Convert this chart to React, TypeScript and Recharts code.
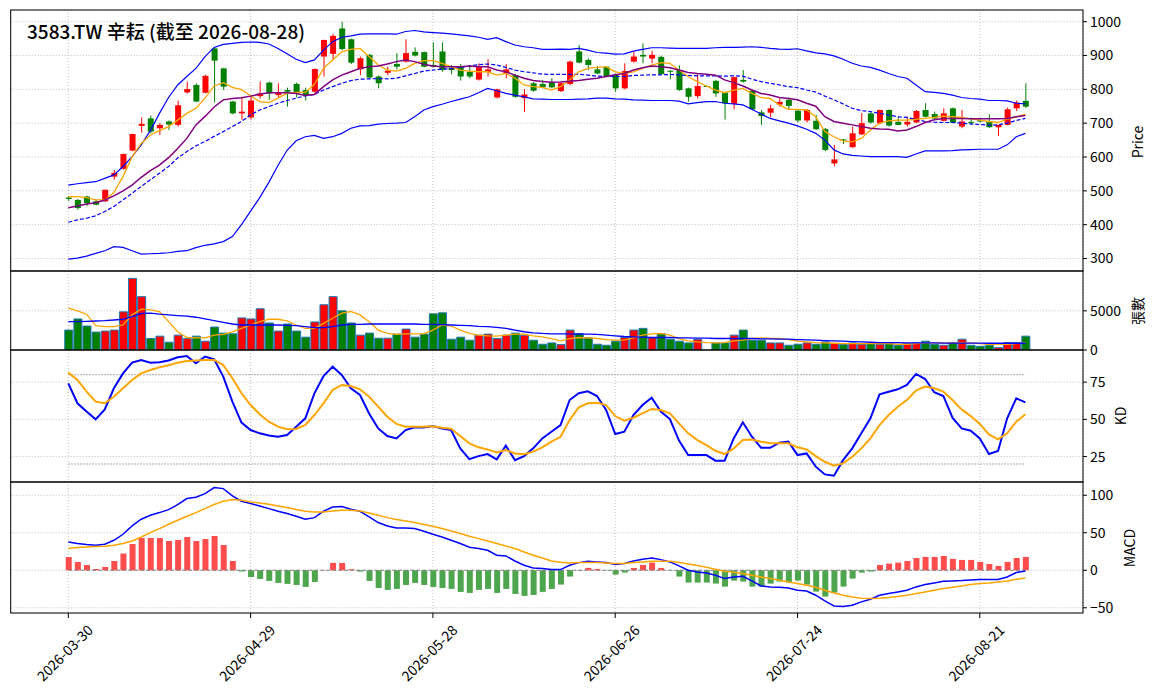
import React from 'react';
import {
  ComposedChart,
  Bar,
  Line,
  XAxis,
  YAxis,
  CartesianGrid,
  ReferenceLine,
  Cell,
} from 'recharts';

// ---- data ----
const DATES = [
  '2026-03-30', '2026-03-31', '2026-04-01', '2026-04-02', '2026-04-07', '2026-04-08', '2026-04-09', '2026-04-10', '2026-04-13', '2026-04-14',
  '2026-04-15', '2026-04-16', '2026-04-17', '2026-04-20', '2026-04-21', '2026-04-22', '2026-04-23', '2026-04-24', '2026-04-27', '2026-04-28',
  '2026-04-29', '2026-04-30', '2026-05-04', '2026-05-05', '2026-05-06', '2026-05-07', '2026-05-08', '2026-05-11', '2026-05-12', '2026-05-13',
  '2026-05-14', '2026-05-15', '2026-05-18', '2026-05-19', '2026-05-20', '2026-05-21', '2026-05-22', '2026-05-25', '2026-05-26', '2026-05-27',
  '2026-05-28', '2026-05-29', '2026-06-01', '2026-06-02', '2026-06-03', '2026-06-04', '2026-06-05', '2026-06-08', '2026-06-09', '2026-06-10',
  '2026-06-11', '2026-06-12', '2026-06-15', '2026-06-16', '2026-06-17', '2026-06-18', '2026-06-22', '2026-06-23', '2026-06-24', '2026-06-25',
  '2026-06-26', '2026-06-29', '2026-06-30', '2026-07-01', '2026-07-02', '2026-07-03', '2026-07-06', '2026-07-07', '2026-07-08', '2026-07-09',
  '2026-07-10', '2026-07-13', '2026-07-14', '2026-07-15', '2026-07-16', '2026-07-17', '2026-07-20', '2026-07-21', '2026-07-22', '2026-07-23',
  '2026-07-24', '2026-07-27', '2026-07-28', '2026-07-29', '2026-07-30', '2026-07-31', '2026-08-03', '2026-08-04', '2026-08-05', '2026-08-06',
  '2026-08-07', '2026-08-10', '2026-08-11', '2026-08-12', '2026-08-13', '2026-08-14', '2026-08-17', '2026-08-18', '2026-08-19', '2026-08-20',
  '2026-08-21', '2026-08-24', '2026-08-25', '2026-08-26', '2026-08-27', '2026-08-28',
];

const OPEN = [
  480, 473, 483, 469, 469, 542, 565, 619, 692, 714,
  685, 705, 695, 791, 813, 790, 921, 862, 764, 729,
  717, 780, 820, 783, 798, 816, 798, 793, 897, 905,
  980, 948, 859, 902, 838, 849, 875, 882, 911, 910,
  872, 912, 864, 867, 852, 829, 852, 776, 847, 842,
  774, 818, 816, 820, 795, 816, 912, 887, 859, 867,
  843, 803, 882, 902, 891, 896, 855, 857, 803, 780,
  810, 825, 790, 757, 828, 796, 732, 731, 755, 769,
  737, 708, 707, 683, 581, 652, 629, 667, 729, 700,
  739, 704, 696, 702, 739, 727, 707, 744, 690, 704,
  709, 705, 688, 695, 744, 766,
];
const HIGH = [
  484, 476, 486, 473, 504, 562, 610, 669, 717, 723,
  700, 708, 767, 823, 818, 843, 924, 864, 766, 778,
  779, 823, 823, 818, 805, 820, 805, 862, 947, 964,
  1000, 950, 897, 905, 841, 867, 907, 948, 924, 912,
  939, 939, 872, 875, 872, 877, 889, 802, 875, 846,
  801, 822, 828, 833, 822, 885, 931, 892, 869, 869,
  847, 877, 911, 936, 914, 899, 856, 871, 805, 846,
  811, 828, 793, 838, 857, 799, 739, 754, 773, 776,
  740, 742, 725, 686, 636, 653, 690, 730, 732, 740,
  741, 719, 719, 739, 759, 734, 744, 746, 739, 717,
  717, 726, 695, 746, 767, 818,
];
const LOW = [
  470, 444, 455, 457, 467, 533, 563, 617, 672, 670,
  665, 680, 690, 788, 762, 788, 761, 798, 726, 710,
  711, 773, 769, 776, 749, 776, 767, 790, 838, 887,
  916, 875, 842, 832, 803, 842, 859, 879, 897, 865,
  865, 852, 845, 826, 833, 826, 838, 773, 833, 775,
  733, 793, 803, 803, 792, 812, 877, 857, 845, 836,
  793, 800, 879, 877, 877, 843, 830, 796, 764, 773,
  809, 778, 711, 741, 820, 738, 695, 717, 749, 739,
  702, 702, 680, 617, 573, 638, 627, 665, 699, 697,
  690, 694, 690, 700, 717, 709, 705, 700, 685, 695,
  702, 686, 662, 694, 736, 745,
];
const CLOSE = [
  476, 449, 464, 459, 503, 553, 609, 668, 698, 675,
  695, 696, 753, 801, 764, 840, 885, 808, 729, 734,
  767, 788, 788, 790, 793, 788, 783, 860, 946, 958,
  919, 879, 892, 835, 818, 855, 867, 907, 900, 867,
  867, 857, 857, 838, 838, 869, 859, 800, 859, 778,
  785, 796, 806, 806, 818, 882, 879, 872, 847, 838,
  803, 854, 897, 897, 902, 845, 853, 798, 778, 810,
  810, 788, 759, 836, 823, 741, 721, 744, 763, 751,
  708, 739, 682, 621, 593, 650, 670, 700, 702, 739,
  693, 695, 704, 736, 719, 714, 729, 702, 705, 701,
  705, 688, 695, 741, 761, 749,
];

const MA5 = [
  483, 483, 480, 473, 473, 495, 542, 601, 640, 665,
  678, 690, 709, 729, 744, 774, 810, 820, 806, 799,
  781, 764, 761, 774, 789, 791, 791, 815, 862, 887,
  911, 918, 921, 897, 872, 857, 854, 862, 877, 885,
  885, 877, 867, 857, 854, 852, 852, 842, 847, 833,
  813, 808, 806, 798, 808, 828, 852, 862, 865, 867,
  852, 847, 852, 862, 872, 879, 877, 857, 838, 823,
  810, 798, 790, 798, 803, 788, 776, 773, 754, 741,
  741, 739, 719, 675, 660, 647, 645, 655, 680, 700,
  707, 709, 709, 711, 714, 717, 721, 719, 717, 713,
  709, 705, 702, 712, 719, 727,
];
const MA10 = [
  450, 455, 461, 465, 473, 485, 500, 517, 540, 560,
  576, 598, 625, 655, 695, 720, 748, 769, 773, 775,
  780, 786, 790, 790, 790, 788, 782, 785, 808, 828,
  842, 852, 862, 867, 869, 875, 882, 887, 882, 874,
  869, 867, 867, 867, 869, 867, 867, 857, 852, 842,
  833, 826, 823, 821, 822, 824, 826, 830, 833, 838,
  843, 847, 857, 864, 869, 867, 864, 857, 850, 847,
  845, 842, 828, 820, 810, 798, 788, 783, 776, 773,
  769, 759, 750, 719, 705, 700, 695, 690, 685, 683,
  682, 677, 680, 690, 702, 710, 714, 714, 714, 713,
  713, 713, 713, 714, 719, 723,
];
const MA20 = [
  407, 414, 419, 426, 439, 454, 473, 493, 513, 533,
  552, 572, 597, 616, 633, 646, 661, 675, 690, 705,
  725, 739, 749, 759, 767, 774, 781, 785, 798, 808,
  818, 826, 830, 831, 832, 831, 833, 840, 847, 854,
  857, 860, 861, 865, 869, 873, 875, 872, 865, 857,
  852, 849, 845, 844, 844, 844, 845, 842, 839, 838,
  838, 838, 841, 842, 843, 843, 844, 843, 841, 840,
  840, 840, 839, 840, 839, 830, 823, 818, 813, 808,
  805, 798, 792, 780, 769, 757, 744, 737, 734, 729,
  724, 719, 717, 711, 705, 703, 702, 702, 700, 698,
  696, 694, 695, 700, 708, 714,
];
const BB_UPPER = [
  517, 521, 524, 527, 537, 547, 572, 601, 636, 678,
  729, 776, 813, 838, 862, 897, 924, 933, 936, 939,
  940, 939, 934, 921, 905, 889, 879, 887, 916, 941,
  954, 958, 963, 964, 964, 964, 963, 971, 974, 970,
  968, 966, 964, 961, 958, 954, 948, 953, 941, 931,
  926, 923, 918, 918, 919, 918, 921, 916, 909, 907,
  904, 905, 913, 918, 923, 923, 922, 921, 921, 921,
  921, 923, 924, 924, 925, 926, 924, 921, 919, 918,
  920, 914, 908, 905, 899, 889, 877, 869, 865, 857,
  847, 838, 833, 813, 793, 791, 788, 783, 776, 773,
  771, 767, 767, 766, 759, 757,
];
const BB_LOWER = [
  298, 301, 307, 315, 323, 335, 333, 323, 313, 314,
  315, 317, 321, 323, 332, 339, 343, 350, 365, 400,
  440, 480, 525, 575, 620, 648, 660, 664, 655, 660,
  670, 685, 692, 693, 697, 699, 700, 702, 719, 739,
  749, 756, 764, 771, 778, 790, 803, 796, 788, 783,
  778, 772, 771, 770, 770, 770, 771, 772, 774, 774,
  772, 771, 769, 768, 767, 767, 767, 765, 757, 761,
  764, 764, 759, 757, 754, 741, 727, 714, 707, 700,
  692, 682, 670, 650, 621, 609, 605, 603, 601, 601,
  601, 601, 599, 609, 618, 618, 618, 619, 621, 622,
  623, 623, 623, 636, 660, 670,
];

const VOLUME = [
  2543, 3965, 3060, 2284, 2414, 2543, 4870, 9137, 6810, 1465,
  1767, 991, 1896, 1465, 1767, 1121, 2931, 2155, 2069, 4095,
  3965, 5258, 3448, 2414, 3319, 2414, 1638, 3577, 5775, 6810,
  5000, 3448, 1896, 2155, 1509, 1509, 2026, 2672, 1638, 2026,
  4612, 4741, 1379, 1638, 1250, 1896, 2026, 1465, 1896, 2155,
  1896, 1250, 733, 905, 690, 2543, 2112, 1552, 733, 603,
  1121, 1595, 2543, 2758, 1552, 2069, 1379, 1121, 905, 1379,
  0, 905, 905, 1896, 2543, 1250, 1250, 905, 905, 603,
  733, 905, 733, 1034, 819, 690, 905, 733, 819, 733,
  819, 603, 819, 905, 1121, 733, 603, 905, 1379, 603,
  474, 603, 302, 948, 948, 1767,
];
const VOL_MA5 = [
  5344, 5000, 4569, 3103, 2974, 2974, 3189, 4482, 5215, 5129,
  4913, 3620, 2327, 1595, 1552, 1552, 1896, 1983, 2327, 2758,
  3189, 3620, 3922, 3922, 3707, 3189, 2758, 2758, 3405, 4051,
  4698, 4913, 4482, 3620, 2543, 2112, 1983, 2069, 2069, 2069,
  2543, 3189, 3060, 2543, 2112, 1896, 1810, 1767, 1896, 2026,
  2026, 1810, 1681, 1465, 1164, 1465, 1595, 1552, 1465, 1336,
  1250, 1250, 1552, 1896, 2069, 2112, 1896, 1465, 1164, 1034,
  948, 905, 948, 1164, 1250, 1465, 1552, 1465, 1465, 1336,
  1121, 1034, 948, 905, 862, 819, 819, 819, 819, 819,
  819, 733, 733, 819, 905, 905, 905, 905, 948, 905,
  819, 733, 733, 733, 819, 948,
];
const VOL_MA20 = [
  3620, 3620, 3660, 3700, 3750, 3830, 3922, 4267, 4655, 4698,
  4569, 4482, 4396, 4310, 4181, 3965, 3750, 3534, 3319, 3189,
  3189, 3189, 3189, 3189, 3146, 3103, 2974, 2845, 2845, 2974,
  3189, 3276, 3276, 3319, 3319, 3319, 3319, 3319, 3319, 3276,
  3276, 3233, 3189, 3146, 3103, 3017, 2974, 2888, 2758, 2543,
  2327, 2198, 2112, 2069, 2069, 2069, 2026, 2026, 1983, 1896,
  1810, 1724, 1681, 1638, 1595, 1595, 1595, 1552, 1552, 1509,
  1509, 1465, 1465, 1465, 1465, 1465, 1422, 1422, 1379, 1379,
  1336, 1293, 1250, 1207, 1164, 1121, 1077, 1034, 991, 948,
  948, 948, 905, 905, 905, 905, 880, 880, 880, 870,
  870, 862, 862, 862, 862, 862,
];

const K = [
  74.2, 60.8, 55.2, 50, 56.7, 70.9, 80.9, 88.1, 89.9, 88.1,
  88.3, 89.5, 91.7, 92.6, 87.7, 92.2, 90.4, 78.7, 61.9, 47.8,
  42.8, 40.6, 39.2, 38.3, 39.5, 45.1, 50.7, 67.5, 79.1, 85.4,
  79.8, 70.9, 66.4, 54, 43.9, 38.8, 37.2, 42.8, 44.6, 44.6,
  45.5, 43.9, 42.8, 30.5, 23.3, 25.3, 26.7, 23.1, 32.3, 22.6,
  25.3, 30.5, 37.2, 41.7, 46.2, 63, 67.5, 68.8, 65.7, 56.3,
  40.1, 41.7, 52.9, 59.6, 64.6, 55.2, 50.2, 35.7, 26, 26,
  26, 22.2, 22.2, 37.2, 48, 38.3, 30.9, 30.9, 34.3, 35,
  26, 27.1, 18.2, 13, 12.1, 22.6, 30.5, 40.6, 50.7, 66.8,
  68.6, 70.2, 73.1, 80.5, 77.1, 68.2, 65.7, 51.1, 43.9, 42.4,
  37.2, 26.7, 28.7, 50.7, 64.1, 61.4,
];
const D = [
  81.4, 76.5, 68.6, 61.9, 60.8, 65.2, 70.9, 76.5, 80.9, 83.2,
  85, 86.3, 88.1, 89.2, 89.5, 89.9, 89.9, 86.5, 77.6, 67.5,
  59.6, 53.4, 48.4, 45.1, 43.3, 43.5, 46.2, 52.9, 60.8, 69.7,
  73.1, 72.4, 70.2, 65.2, 58.5, 51.8, 46.9, 45.1, 45.1, 45.1,
  45.3, 44.4, 43.7, 38.8, 33.9, 31.2, 29.8, 27.8, 29.4, 27.1,
  26.5, 28.3, 31.2, 35, 38.3, 49.6, 58.1, 60.8, 61.2, 59.6,
  52.2, 49.1, 51.1, 54, 57, 56.3, 54, 47.3, 40.6, 36.1,
  32.7, 28.9, 26.7, 30.5, 36.1, 36.5, 35, 33.9, 33.9, 33.9,
  31.2, 29.8, 25.3, 21.5, 18.8, 20.4, 24.9, 30.5, 37.2, 46.2,
  52.9, 58.5, 63, 69.3, 72, 70.9, 68.6, 63, 56.7, 52.2,
  46.9, 39.9, 36.5, 40.6, 48.4, 53.4,
];

const DIF = [
  37.8, 35.6, 34.2, 33.3, 34.7, 40, 48, 59.1, 68, 73.3,
  76.9, 80.9, 87.6, 95.6, 97.3, 102.2, 110.2, 108.9, 99.1, 92,
  88.9, 85.8, 82.2, 78.7, 75.6, 72, 68, 70.2, 78.7, 84.4,
  84.9, 81.3, 78.7, 71.1, 63.6, 59.1, 56.4, 56.4, 55.6, 52,
  48, 44.4, 40, 35.6, 30.7, 28.9, 26.7, 20, 19.1, 12.4,
  6.7, 3.1, 2.2, 0.9, 0.9, 6.7, 10.2, 12, 11.1, 10.2,
  7.6, 8.9, 12.4, 14.7, 16.4, 14.2, 11.1, 5.8, 0, -2.2,
  -3.6, -6.7, -11.1, -8.9, -8, -14.2, -20.9, -22.2, -22.7, -23.6,
  -26.7, -27.6, -33.3, -40.9, -47.6, -48.4, -46.7, -42.2, -38.7, -33.3,
  -31.1, -28.9, -26.7, -22.2, -19.1, -16.9, -14.7, -14.2, -13.8, -12.9,
  -12.4, -12.4, -12.4, -8.9, -3.1, -0.9,
];
const DEA = [
  28.9, 30.2, 31.1, 31.6, 32, 33.3, 35.6, 39.1, 44.4, 50.2,
  55.6, 61.3, 66.7, 72, 76.9, 82.2, 87.6, 92, 94.2, 93.3,
  91.1, 89.8, 88, 85.8, 83.6, 80.9, 78.7, 77.8, 77.8, 79.1,
  80, 80, 79.1, 76.4, 73.3, 70.2, 67.6, 65.8, 63.6, 60.9,
  58.7, 55.6, 52.4, 48.9, 45.3, 42.2, 39.1, 35.6, 32.4, 28.9,
  24.4, 20, 16.4, 12.4, 10.7, 9.8, 10.2, 10.2, 10.2, 9.8,
  8.9, 8.9, 10.2, 11.1, 12, 12, 12, 10.2, 8.4, 6.2,
  4, 1.3, -1.3, -2.7, -4.4, -6.7, -8.9, -11.1, -13.3, -15.6,
  -17.8, -20, -22.7, -26.7, -30.2, -33.3, -35.6, -37.3, -37.8, -37.3,
  -36.4, -35.1, -33.3, -31.1, -28.9, -26.7, -24.4, -22.7, -20.9, -19.1,
  -17.8, -16.9, -15.6, -14.2, -12, -10.2,
];
const OSC = [
  17.8, 11.1, 7.1, 1.8, 4.4, 12.4, 22.2, 35.1, 43.1, 43.1,
  43.1, 39.1, 40.4, 44.4, 39.1, 41.8, 45.8, 33.8, 12.4, -1.8,
  -8.9, -11.6, -14.2, -16.9, -18.2, -19.6, -22.2, -15.6, 0.4, 9.8,
  9.8, 1.3, -1.8, -14.2, -23.6, -26.2, -24.9, -19.6, -16.9, -19.6,
  -22.2, -23.6, -24.9, -28.9, -30.2, -26.2, -24.9, -30.2, -24.9, -31.6,
  -34.2, -32.9, -28.9, -24.9, -19.1, -8.4, -0.4, 3.1, 1.8, -0.4,
  -5.8, -3.1, 3.1, 7.1, 10.2, 3.1, -0.4, -8.4, -16.4, -16.4,
  -16.4, -17.8, -21.8, -13.8, -15.1, -21.8, -21.8, -17.8, -15.1, -16.4,
  -13.8, -19.1, -28.4, -35.1, -29.8, -21.8, -11.1, -3.1, -1.8, 7.1,
  8.9, 10.2, 12.4, 16.4, 17.8, 17.8, 19.1, 15.1, 13.8, 13.8,
  11.1, 8.4, 5.8, 11.1, 16.4, 17.8,
];

const TICK_IDX = [0, 20, 40, 60, 80, 100];
const PRICE_TICKS = [300, 400, 500, 600, 700, 800, 900, 1000];
const VOL_TICKS = [0, 5000];
const KD_TICKS = [25, 50, 75];
const MACD_TICKS = [-50, 0, 50, 100];

const TITLE = '3583.TW 辛耘 (截至 2026-08-28)';

// ---- look ----
const FONT = "'Noto Sans CJK TC', 'Noto Sans', sans-serif";
const UP = '#ff0000';
const DOWN = '#008000';
const HIST_UP = '#ff4d4d';
const HIST_DOWN = '#4da64d';
const GRID = '#b0b0b0';

const W = 1139;
const PLOT_L = 2.7;
const PLOT_W = 1072.3;
const YAXIS_W = W - PLOT_L - PLOT_W;
const PAD = 10;
const X_DOMAIN: [number, number] = [-6.32, 111.32];

const PANELS = {
  price: { top: 2, h: 261 },
  vol: { top: 263, h: 79 },
  kd: { top: 342, h: 132 },
  macd: { top: 474, h: 131 },
};
const XAXIS_H = 77;

const rows = DATES.map((date, i) => ({
  i,
  date,
  open: OPEN[i],
  high: HIGH[i],
  low: LOW[i],
  close: CLOSE[i],
  hl: [LOW[i], HIGH[i]],
  vol: VOLUME[i],
  ma5: MA5[i],
  ma10: MA10[i],
  ma20: MA20[i],
  up: BB_UPPER[i],
  dn: BB_LOWER[i],
  vma5: VOL_MA5[i],
  vma20: VOL_MA20[i],
  k: K[i],
  d: D[i],
  dif: DIF[i],
  dea: DEA[i],
  osc: OSC[i],
}));

function Candle(props: any) {
  const { x, y, width, height, payload } = props;
  if (!payload || x == null) return null;
  const { open, close, high, low } = payload;
  const color = close > open ? UP : DOWN;
  const ratio = high > low ? height / (high - low) : 0;
  const yOf = (v: number) => y + (high - v) * ratio;
  const top = yOf(Math.max(open, close));
  const bot = yOf(Math.min(open, close));
  const cx = x + width / 2;
  return (
    <g>
      <line x1={cx} x2={cx} y1={y} y2={y + height} stroke={color} strokeWidth={1} />
      <rect x={x} y={top} width={width} height={Math.max(bot - top, 1)} fill={color} />
    </g>
  );
}

function DateTick(props: any) {
  const { x, y, payload } = props;
  const cx = x - 4;
  const cy = y + 32.5;
  return (
    <text
      x={cx}
      y={cy}
      transform={`rotate(-45 ${cx} ${cy})`}
      textAnchor="middle"
      dominantBaseline="central"
      fontSize={14}
      fill="#000"
      fontFamily={FONT}
    >
      {DATES[payload.value]}
    </text>
  );
}

const tickStyle = { fontSize: 14, fill: '#000', fontFamily: FONT };
const minus = (v: number) => String(v).replace('-', '\u2212');

function yAxis(domain: [number, number], ticks: number[]) {
  return (
    <YAxis
      orientation="right"
      width={YAXIS_W}
      domain={domain}
      ticks={ticks}
      allowDataOverflow
      interval={0}
      axisLine={false}
      tickSize={4}
      tickMargin={3}
      tickLine={{ stroke: '#000' }}
      tick={tickStyle}
      tickFormatter={minus}
    />
  );
}

function hiddenX() {
  return (
    <XAxis dataKey="i" type="number" domain={X_DOMAIN} ticks={TICK_IDX} allowDataOverflow hide />
  );
}

const grid = <CartesianGrid stroke={GRID} strokeDasharray="1 2" strokeWidth={0.8} />;

export default function App() {
  const margin = { top: PAD, right: 0, bottom: PAD, left: PLOT_L };
  return (
    <div style={{ position: 'relative', width: W, height: 682, fontFamily: FONT, background: '#fff' }}>
      {/* price + bollinger + MA */}
      <div style={{ position: 'absolute', left: 0, top: PANELS.price.top - PAD }}>
        <ComposedChart width={W} height={PANELS.price.h + 2 * PAD} data={rows} margin={margin}>
          {grid}
          {hiddenX()}
          {yAxis([263, 1034.6], PRICE_TICKS)}
          <Bar dataKey="hl" barSize={6} shape={(p: any) => <Candle {...p} />} isAnimationActive={false} />
          <Line dataKey="up" stroke="#0000ff" strokeWidth={1.2} dot={false} activeDot={false} isAnimationActive={false} />
          <Line dataKey="dn" stroke="#0000ff" strokeWidth={1.2} dot={false} activeDot={false} isAnimationActive={false} />
          <Line dataKey="ma20" stroke="#0000ff" strokeWidth={1.2} strokeDasharray="4 2" dot={false} activeDot={false} isAnimationActive={false} />
          <Line dataKey="ma5" stroke="#ffa500" strokeWidth={1.3} dot={false} activeDot={false} isAnimationActive={false} />
          <Line dataKey="ma10" stroke="#800080" strokeWidth={1.5} dot={false} activeDot={false} isAnimationActive={false} />
        </ComposedChart>
      </div>

      {/* volume */}
      <div style={{ position: 'absolute', left: 0, top: PANELS.vol.top - PAD }}>
        <ComposedChart width={W} height={PANELS.vol.h + 2 * PAD} data={rows} margin={margin}>
          {grid}
          {hiddenX()}
          {yAxis([0, 10080], VOL_TICKS)}
          <Bar dataKey="vol" barSize={8} isAnimationActive={false}>
            {rows.map((r) => (
              <Cell key={r.i} fill={r.close > r.open ? UP : DOWN} stroke="#1f77b4" strokeWidth={1} />
            ))}
          </Bar>
          <Line dataKey="vma5" stroke="#ffa500" strokeWidth={1.3} dot={false} activeDot={false} isAnimationActive={false} />
          <Line dataKey="vma20" stroke="#0000ff" strokeWidth={1.3} dot={false} activeDot={false} isAnimationActive={false} />
        </ComposedChart>
      </div>

      {/* KD */}
      <div style={{ position: 'absolute', left: 0, top: PANELS.kd.top - PAD }}>
        <ComposedChart width={W} height={PANELS.kd.h + 2 * PAD} data={rows} margin={margin}>
          {grid}
          {hiddenX()}
          {yAxis([7.9, 96.6], KD_TICKS)}
          <ReferenceLine segment={[{ x: 0, y: 80 }, { x: 105, y: 80 }]} stroke="#909090" strokeDasharray="1.5 1.5" />
          <ReferenceLine segment={[{ x: 0, y: 20 }, { x: 105, y: 20 }]} stroke="#909090" strokeDasharray="1.5 1.5" />
          <Line dataKey="k" stroke="#0000ff" strokeWidth={2} dot={false} activeDot={false} isAnimationActive={false} />
          <Line dataKey="d" stroke="#ffa500" strokeWidth={2} dot={false} activeDot={false} isAnimationActive={false} />
        </ComposedChart>
      </div>

      {/* MACD */}
      <div style={{ position: 'absolute', left: 0, top: PANELS.macd.top - PAD }}>
        <ComposedChart
          width={W}
          height={PANELS.macd.h + PAD + XAXIS_H}
          data={rows}
          margin={{ top: PAD, right: 0, bottom: 0, left: PLOT_L }}
        >
          {grid}
          <XAxis
            dataKey="i"
            type="number"
            domain={X_DOMAIN}
            ticks={TICK_IDX}
            allowDataOverflow
            interval={0}
            height={XAXIS_H}
            axisLine={false}
            tickSize={5}
            tickMargin={2}
            tickLine={{ stroke: '#000' }}
            tick={<DateTick />}
          />
          {yAxis([-57, 117.7], MACD_TICKS)}
          <ReferenceLine segment={[{ x: 0, y: 0 }, { x: 105, y: 0 }]} stroke="#808080" strokeDasharray="4 2" />
          <Bar dataKey="osc" barSize={6} isAnimationActive={false}>
            {rows.map((r) => (
              <Cell key={r.i} fill={r.osc >= 0 ? HIST_UP : HIST_DOWN} />
            ))}
          </Bar>
          <Line dataKey="dif" stroke="#0000ff" strokeWidth={1.5} dot={false} activeDot={false} isAnimationActive={false} />
          <Line dataKey="dea" stroke="#ffa500" strokeWidth={1.5} dot={false} activeDot={false} isAnimationActive={false} />
        </ComposedChart>
      </div>

      {/* frames, title and axis titles */}
      <svg width={W} height={682} style={{ position: 'absolute', left: 0, top: 0, pointerEvents: 'none' }}>
        {Object.values(PANELS).map((p, n) => (
          <rect key={n} x={PLOT_L} y={p.top} width={PLOT_W} height={p.h} fill="none" stroke="#000" strokeWidth={1} />
        ))}
        <text x={19} y={22} fontSize={19} fontWeight={500} dominantBaseline="central" fill="#000" fontFamily={FONT}>
          {TITLE}
        </text>
        <text transform="translate(1129,134) rotate(-90)" textAnchor="middle" dominantBaseline="central" fontSize={14} fontFamily={FONT}>
          Price
        </text>
        <text transform="translate(1129,303) rotate(-90)" textAnchor="middle" dominantBaseline="central" fontSize={14} fontFamily={FONT}>
          張數
        </text>
        <text transform="translate(1112,408) rotate(-90)" textAnchor="middle" dominantBaseline="central" fontSize={14} fontFamily={FONT}>
          KD
        </text>
        <text transform="translate(1121,540) rotate(-90)" textAnchor="middle" dominantBaseline="central" fontSize={14} fontFamily={FONT}>
          MACD
        </text>
      </svg>
    </div>
  );
}
